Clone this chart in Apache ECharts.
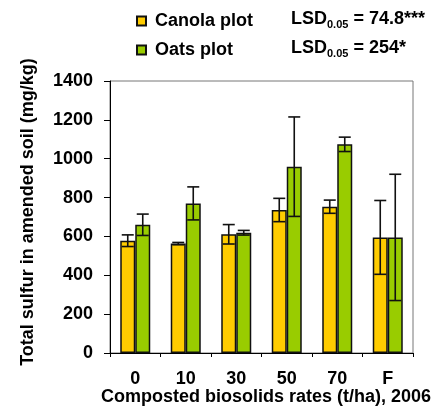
<!DOCTYPE html>
<html>
<head>
<meta charset="utf-8">
<script src="https://cdn.jsdelivr.net/npm/echarts@6/dist/echarts.min.js"></script>
<style>
  html, body { margin: 0; padding: 0; background: #fff; }
  #chart { width: 433px; height: 406px; }
</style>
</head>
<body>
<div id="chart"></div>
<script>
// Composted biosolids application rates (t/ha); F = fertilizer treatment
const categories = ['0', '10', '30', '50', '70', 'F'];

// Mean total sulfur (mg/kg) in amended soil
const canolaMeans = [578, 563, 611, 736, 753, 595];
const oatsMeans   = [660, 770, 619, 959, 1074, 595];

// Half-width of the error bars (mg/kg)
const canolaErr = [30, 6, 50, 60, 34, 190];
const oatsErr   = [55, 85, 12, 256, 37, 325];

const yTicks = { min: 0, max: 1400, step: 200 };

const FONT = '"Liberation Sans", Arial, sans-serif';
const BAR_W = 15;

function errorData(means, errs) {
  return means.map((m, i) => [i, m - errs[i], m + errs[i]]);
}

// Whisker drawn at the centre of one bar of the pair
function whisker(offset) {
  return function (params, api) {
    const x = api.value(0);
    const lo = api.coord([x, api.value(1)]);
    const hi = api.coord([x, api.value(2)]);
    const cx = lo[0] + offset;
    const cap = 6;
    const style = { stroke: '#111', lineWidth: 1.6 };
    return {
      type: 'group',
      children: [
        { type: 'line', shape: { x1: cx, y1: hi[1], x2: cx, y2: lo[1] }, style },
        { type: 'line', shape: { x1: cx - cap, y1: hi[1], x2: cx + cap, y2: hi[1] }, style },
        { type: 'line', shape: { x1: cx - cap, y1: lo[1], x2: cx + cap, y2: lo[1] }, style }
      ]
    };
  };
}

const chart = echarts.init(document.getElementById('chart'), null, { renderer: 'canvas' });

const lsdRich = {
  a: { fontFamily: FONT, fontWeight: 'bold', fontSize: 18, fill: '#000', lineHeight: 22, verticalAlign: 'middle' },
  b: { fontFamily: FONT, fontWeight: 'bold', fontSize: 11, fill: '#000', lineHeight: 22, verticalAlign: 'bottom', padding: [9, 0, 0, 0] }
};

chart.setOption({
  animation: false,
  backgroundColor: '#fff',
  textStyle: { fontFamily: FONT },
  grid: {
    left: 110, right: 20, top: 81, bottom: 53,
    outerBoundsMode: 'none',
    containLabel: false,
    show: true, borderColor: '#777', borderWidth: 1
  },
  legend: {
    orient: 'vertical',
    left: 136, top: 12,
    padding: 0,
    itemWidth: 9, itemHeight: 9,
    itemGap: 11,
    icon: 'rect',
    textStyle: { fontFamily: FONT, fontWeight: 'bold', fontSize: 18, color: '#000', padding: [0, 0, 0, 4] },
    data: ['Canola plot', 'Oats plot']
  },
  graphic: [
    { type: 'text', left: 291, top: 10, style: { text: '{a|LSD}{b|0.05}{a| = 74.8***}', rich: lsdRich } },
    { type: 'text', left: 291, top: 39, style: { text: '{a|LSD}{b|0.05}{a| = 254*}', rich: lsdRich } }
  ],
  xAxis: {
    type: 'category',
    data: categories,
    name: 'Composted biosolids rates (t/ha), 2006',
    nameLocation: 'middle',
    nameGap: 35,
    nameMoveOverlap: false,
    nameTextStyle: { fontFamily: FONT, fontWeight: 'bold', fontSize: 18, color: '#000', padding: [0, 0, 0, 9] },
    axisLine: { lineStyle: { color: '#000', width: 1 } },
    axisTick: { show: true, length: 4, lineStyle: { color: '#000' } },
    axisLabel: { fontFamily: FONT, fontWeight: 'bold', fontSize: 18, color: '#000', margin: 17 },
    splitLine: { show: false }
  },
  yAxis: {
    type: 'value',
    min: yTicks.min, max: yTicks.max, interval: yTicks.step,
    name: 'Total sulfur in amended soil (mg/kg)',
    nameLocation: 'middle',
    nameGap: 73,
    nameMoveOverlap: false,
    nameRotate: 90,
    nameTextStyle: { fontFamily: FONT, fontWeight: 'bold', fontSize: 18, color: '#000', padding: [0, 0, 0, 10] },
    axisLine: { show: true, lineStyle: { color: '#000', width: 1 } },
    axisTick: { show: true, length: 6, lineStyle: { color: '#000' } },
    axisLabel: {
      fontFamily: FONT, fontWeight: 'bold', fontSize: 18, color: '#000', margin: 17,
      formatter: (v) => String(v)
    },
    splitLine: { show: false }
  },
  series: [
    {
      name: 'Canola plot', type: 'bar', data: canolaMeans,
      barWidth: BAR_W, barGap: '0%',
      itemStyle: { color: '#FFCC00', borderColor: '#111', borderWidth: 1.5 }
    },
    {
      name: 'Oats plot', type: 'bar', data: oatsMeans,
      barWidth: BAR_W, barGap: '0%',
      itemStyle: { color: '#99CC00', borderColor: '#111', borderWidth: 1.5 }
    },
    {
      type: 'custom', renderItem: whisker(-BAR_W / 2),
      data: errorData(canolaMeans, canolaErr), z: 10, silent: true
    },
    {
      type: 'custom', renderItem: whisker(BAR_W / 2),
      data: errorData(oatsMeans, oatsErr), z: 10, silent: true
    }
  ]
});
</script>
</body>
</html>
